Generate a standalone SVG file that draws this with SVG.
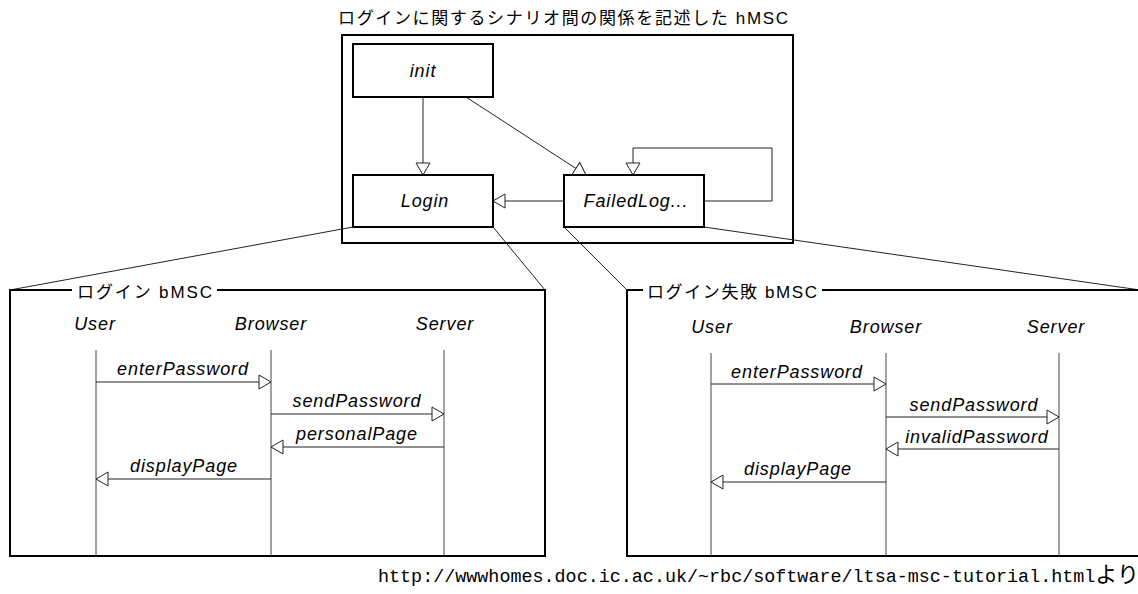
<svg xmlns="http://www.w3.org/2000/svg" width="1138" height="594" viewBox="0 0 1138 594">
<style>
.t{font-family:"Liberation Sans","Noto Sans CJK JP",sans-serif;fill:#000}
.it{font-style:italic;font-size:18px;letter-spacing:0.9px;text-anchor:middle}
.frame{fill:none;stroke:#000;stroke-width:2}
.box{fill:#fff;stroke:#000;stroke-width:2}
.edge{fill:none;stroke:#222;stroke-width:1}
.life{fill:none;stroke:#444;stroke-width:1}
.msg{fill:none;stroke:#222;stroke-width:1;marker-end:url(#hollow)}
.mono{font-family:"Liberation Mono","Noto Sans CJK JP",monospace;font-size:18.4px}
</style>
<defs>
<marker id="hollow" markerUnits="userSpaceOnUse" markerWidth="16" markerHeight="18" refX="13" refY="8" orient="auto" overflow="visible">
<path d="M1,1 L13,8 L1,15 Z" fill="#fff" stroke="#222" stroke-width="1"/>
</marker>
</defs>
<rect width="1138" height="594" fill="#fff"/>

<text class="t" x="338" y="24" font-size="17" textLength="450" lengthAdjust="spacing">ログインに関するシナリオ間の関係を記述した hMSC</text>

<g id="hmsc-frame">
<rect class="frame" x="342" y="35" width="451" height="208"/>
</g>

<g id="connectors">
<path class="msg" d="M423,97 V175"/>
<path class="msg" d="M466,97 L586,175"/>
<path class="msg" d="M704,201 H772 V148 H633 V175"/>
<path class="msg" d="M564,201 H493"/>
<path class="edge" d="M353,227 L10,290"/>
<path class="edge" d="M493,227 L545,290"/>
<path class="edge" d="M564,227 L627,290"/>
<path class="edge" d="M704,227 L1140,290"/>
</g>

<g id="node-init">
<rect class="box" x="353" y="44" width="140" height="53"/>
<text class="t it" x="423" y="77">init</text>
</g>
<g id="node-login">
<rect class="box" x="353" y="175" width="140" height="52"/>
<text class="t it" x="425" y="207">Login</text>
</g>
<g id="node-failedlog">
<rect class="box" x="564" y="175" width="140" height="52"/>
<text class="t it" x="636" y="207">FailedLog...</text>
</g>

<g id="bmsc-login">
<path class="frame" d="M72,290 H10 V556 H545 V290 H217"/>
<text class="t" x="77" y="298" font-size="17" textLength="135" lengthAdjust="spacing">ログイン bMSC</text>
<text class="t it" x="95" y="330">User</text>
<text class="t it" x="271" y="330">Browser</text>
<text class="t it" x="445" y="330">Server</text>
<path class="life" d="M96,350 V556 M271,350 V556 M444,350 V556"/>
<g id="msgs-login">
<path class="msg" d="M96,382 H271"/>
<text class="t it" x="183" y="375">enterPassword</text>
<path class="msg" d="M271,414 H444"/>
<text class="t it" x="357" y="407">sendPassword</text>
<path class="msg" d="M444,447 H271"/>
<text class="t it" x="357" y="440">personalPage</text>
<path class="msg" d="M271,479 H96"/>
<text class="t it" x="184" y="472">displayPage</text>
</g>
</g>

<g id="bmsc-failed">
<path class="frame" d="M643,290 H627 V556 H1150 V290 H822"/>
<text class="t" x="647" y="298" font-size="17" textLength="170" lengthAdjust="spacing">ログイン失敗 bMSC</text>
<text class="t it" x="712" y="333">User</text>
<text class="t it" x="886" y="333">Browser</text>
<text class="t it" x="1056" y="333">Server</text>
<path class="life" d="M711,353 V556 M886,353 V556 M1059,353 V556"/>
<g id="msgs-failed">
<path class="msg" d="M711,384 H886"/>
<text class="t it" x="797" y="378">enterPassword</text>
<path class="msg" d="M886,417 H1059"/>
<text class="t it" x="974" y="411">sendPassword</text>
<path class="msg" d="M1059,449 H886"/>
<text class="t it" x="977" y="443">invalidPassword</text>
<path class="msg" d="M886,482 H711"/>
<text class="t it" x="798" y="475">displayPage</text>
</g>
</g>

<text class="mono" x="378" y="582" fill="#000">http://wwwhomes.doc.ic.ac.uk/~rbc/software/ltsa-msc-tutorial.html<tspan font-family="Noto Sans CJK JP, sans-serif" font-size="22">より</tspan></text>
</svg>
